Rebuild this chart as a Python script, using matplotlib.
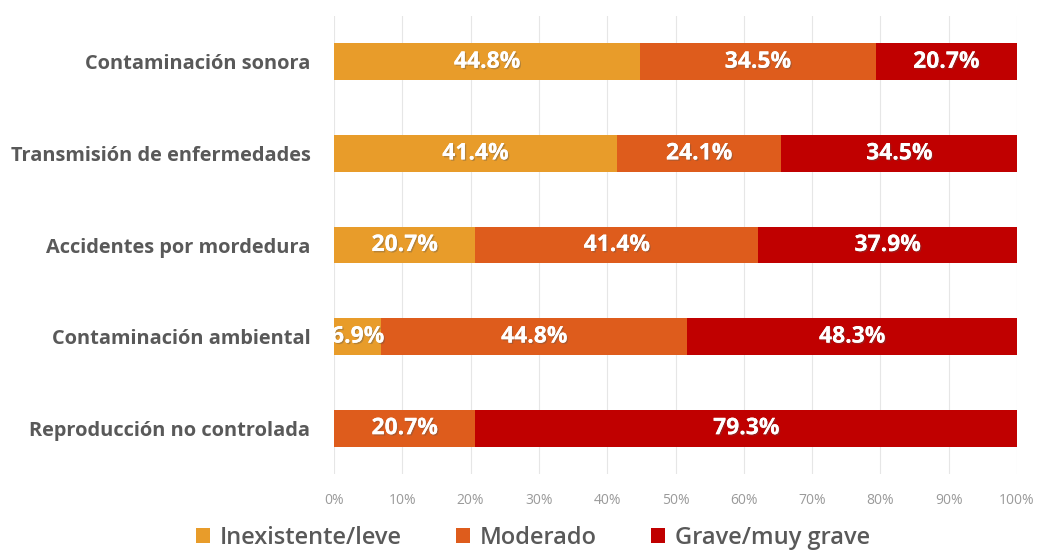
import matplotlib
matplotlib.use("Agg")
import matplotlib.pyplot as plt
import matplotlib.patheffects as pe
import numpy as np

categories = ["Contaminación sonora", "Transmisión de enfermedades", "Accidentes por mordedura",
              "Contaminación ambiental", "Reproducción no controlada"]
series_names = ["Inexistente/leve", "Moderado", "Grave/muy grave"]
inexistente = [44.8, 41.4, 20.7, 6.9, 0.0]
moderado = [34.5, 24.1, 41.4, 44.8, 20.7]
grave = [20.7, 34.5, 37.9, 48.3, 79.3]
xticks = [0, 10, 20, 30, 40, 50, 60, 70, 80, 90, 100]
xtick_labels = [f"{t}%" for t in xticks]

colors = ["#E89C2A", "#DE5C1C", "#C00000"]

plt.rcParams['font.family'] = ['Open Sans', 'DejaVu Sans']

fig = plt.figure(figsize=(10.41, 5.52), dpi=100)
ax = fig.add_axes([334/1041, 1-474/552, (1017-334)/1041, (474-16)/552])

y = np.arange(len(categories))
left = np.zeros(len(categories))
handles = []
for vals, col, name in zip([inexistente, moderado, grave], colors, series_names):
    vals = np.array(vals)
    b = ax.barh(y, vals, left=left, height=0.4, color=col, label=name, zorder=2)
    handles.append(b)
    for yi, v, l in zip(y, vals, left):
        if v > 0:
            ax.text(l + v/2, yi, f"{v:.1f}%", ha="center", va="center", color="white",
                    fontsize=16.5, fontweight="bold", clip_on=True, zorder=3,
                    path_effects=[pe.withSimplePatchShadow(offset=(1, -1), alpha=0.35, shadow_rgbFace="#555555"), pe.Normal()])
    left = left + vals

ax.set_xlim(0, 100)
ax.set_ylim(len(categories)-0.5, -0.5)
ax.set_xticks(xticks)
ax.set_xticklabels(xtick_labels, fontsize=10, color="#9A9A9A")
ax.set_yticks(y)
ax.set_yticklabels(categories, fontsize=14.4, fontweight="bold", color="#595959")
ax.tick_params(axis="y", length=0, pad=17)
ax.tick_params(axis="x", length=0, pad=14)
for s in ax.spines.values():
    s.set_visible(False)
ax.xaxis.grid(True, color="#E6E6E6", linewidth=0.8, zorder=0)
ax.set_axisbelow(True)

fig.legend(handles=handles, labels=series_names, loc="center", bbox_to_anchor=(533/1041, 1-538/552),
           ncol=3, frameon=False, prop={"size": 17, "weight": 600}, handlelength=0.6, handleheight=0.6,
           handletextpad=0.4, columnspacing=2.3, labelcolor="#595959")

fig.savefig("out.png", dpi=100)
